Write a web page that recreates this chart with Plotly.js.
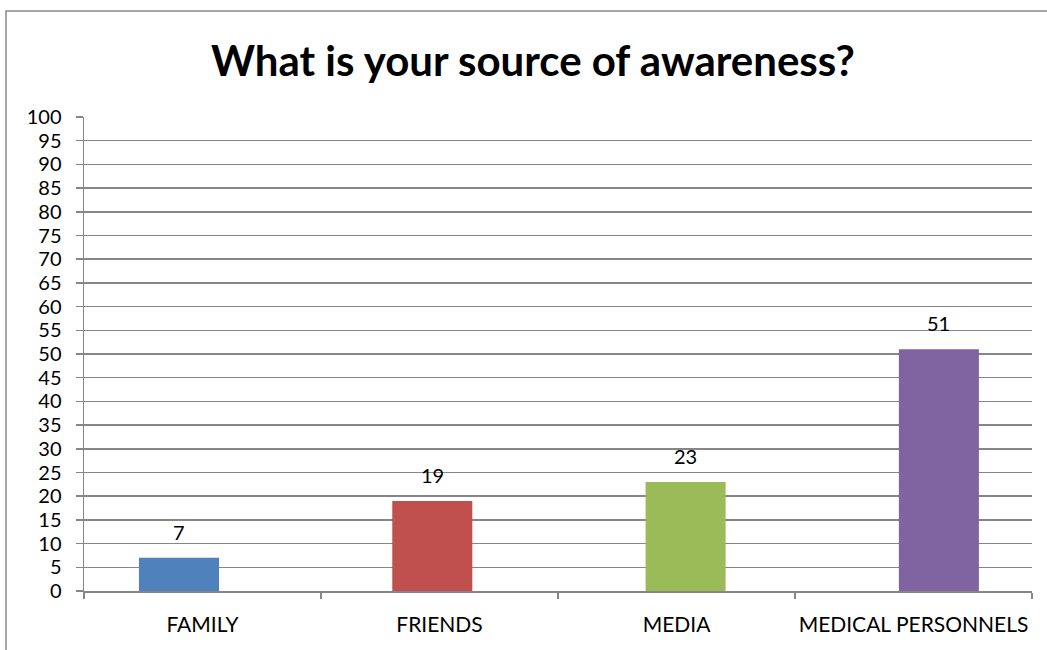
<!DOCTYPE html>
<html>
<head>
<meta charset="utf-8">
<script src="https://cdn.plot.ly/plotly-3.0.1.min.js"></script>
<style>html,body{margin:0;padding:0;background:#fff;}#chart{width:1047px;height:650px;}</style>
</head>
<body>
<div id="chart"></div>
<script>
const categories = ["FAMILY", "FRIENDS", "MEDIA", "MEDICAL PERSONNELS"];
const values = [7, 19, 23, 51];
const barColors = ["#4F81BD", "#C0504D", "#9BBB59", "#8064A2"];
const yTicks = [0,5,10,15,20,25,30,35,40,45,50,55,60,65,70,75,80,85,90,95,100];

const FONT = "Lato, Calibri, 'Noto Sans', sans-serif";
const GRID = "#868686";

// Bars sit on an overlaid category axis whose spacing is slightly wider than the labelled axis (as in the reference)
const trace = {
  type: "bar",
  x: categories,
  y: values,
  xaxis: "x2",
  width: 0.316,
  marker: {color: barColors},
  hoverinfo: "x+y"
};
// invisible trace to populate the labelled category axis
const labelTrace = {
  type: "scatter", mode: "markers",
  x: categories, y: values.map(() => null),
  hoverinfo: "skip", showlegend: false
};

const annotations = categories.map((c, i) => ({
  x: c, y: values[i], xref: "x2", yref: "y",
  text: String(values[i]), showarrow: false,
  yanchor: "bottom", yshift: 12,
  font: {family: FONT, size: 20, color: "#000"}
}));

const layout = {
  width: 1047, height: 650,
  margin: {l: 84, r: 15, t: 117, b: 59},
  paper_bgcolor: "#fff", plot_bgcolor: "#fff",
  showlegend: false,
  title: {
    text: "<b>What is your source of awareness?</b>",
    font: {family: FONT, size: 42, color: "#000"},
    x: 0.509, xanchor: "center", xref: "container",
    y: 0.905, yanchor: "middle", yref: "container"
  },
  xaxis: {
    type: "category", range: [-0.5, 3.5],
    showline: true, linecolor: GRID, linewidth: 1.5,
    ticks: "outside", tickson: "boundaries", ticklen: 6, tickcolor: GRID, tickwidth: 1.5,
    showgrid: false, tickangle: 0, automargin: false,
    tickfont: {family: FONT, size: 21, color: "#000"},
    ticklabelstandoff: 14
  },
  xaxis2: {
    type: "category", overlaying: "x", anchor: "y",
    range: [-0.375, 3.3676],
    visible: false, showgrid: false, zeroline: false
  },
  yaxis: {
    range: [0, 100], tickvals: yTicks, ticktext: yTicks.map(String),
    showline: true, linecolor: GRID, linewidth: 1.5,
    ticks: "outside", ticklen: 7, tickcolor: GRID, tickwidth: 1.5,
    showgrid: true, gridcolor: GRID, gridwidth: 1.5,
    zeroline: false, automargin: false,
    tickfont: {family: FONT, size: 20, color: "#000"},
    ticklabelstandoff: 10
  },
  annotations: annotations,
  shapes: [{
    type: "rect", xref: "paper", yref: "paper",
    x0: (6-84)/948, x1: (1060-84)/948,
    y0: (591-660)/474, y1: (591-11)/474,
    line: {color: "#8a8a8a", width: 1.5}, fillcolor: "rgba(0,0,0,0)", layer: "below"
  }]
};

Plotly.newPlot("chart", [labelTrace, trace], layout, {displayModeBar: false, staticPlot: true});
</script>
</body>
</html>
